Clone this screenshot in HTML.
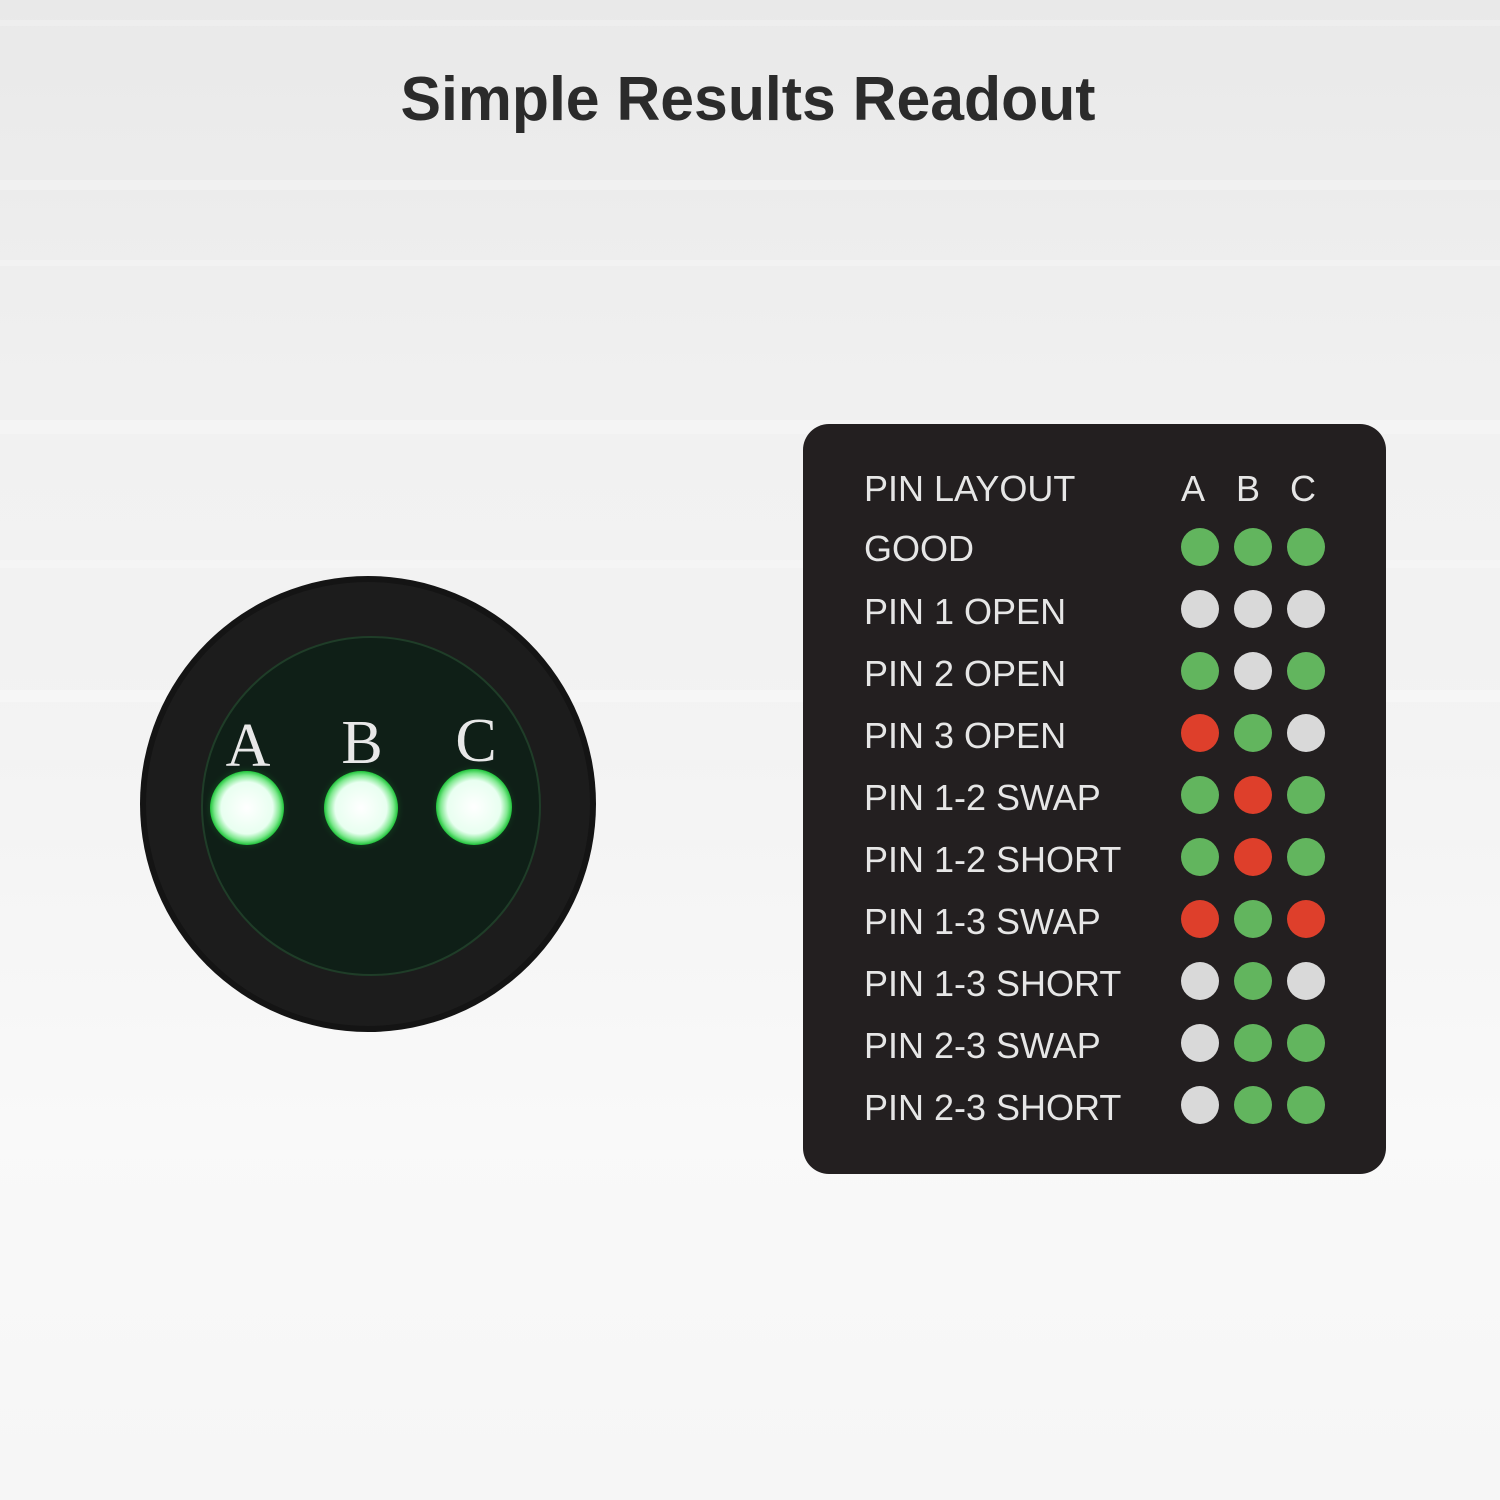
<!DOCTYPE html>
<html><head><meta charset="utf-8"><style>
html,body{margin:0;padding:0;width:1500px;height:1500px;overflow:hidden}
</style></head><body>
<svg width="1500" height="1500" viewBox="0 0 1500 1500" xmlns="http://www.w3.org/2000/svg">
<defs>
<linearGradient id="bg" x1="0" y1="0" x2="0" y2="1">
<stop offset="0" stop-color="#e9e9e9"/><stop offset="0.3" stop-color="#f1f1f1"/>
<stop offset="0.5" stop-color="#f3f3f3"/><stop offset="0.75" stop-color="#f9f9f9"/><stop offset="1" stop-color="#f6f6f6"/>
</linearGradient>
<radialGradient id="led" cx="0.5" cy="0.5" r="0.5">
<stop offset="0" stop-color="#ffffff"/><stop offset="0.7" stop-color="#e8fff0"/><stop offset="0.88" stop-color="#7fe88f"/><stop offset="1" stop-color="#1fc43a"/>
</radialGradient>
<radialGradient id="glow" cx="0.5" cy="0.5" r="0.5">
<stop offset="0.6" stop-color="#2cd94a" stop-opacity="0.6"/><stop offset="1" stop-color="#0a2a14" stop-opacity="0"/>
</radialGradient>
</defs>
<rect width="1500" height="1500" fill="url(#bg)"/>
<g fill="#ffffff" opacity="0.25">
<rect y="20" width="1500" height="6"/><rect y="180" width="1500" height="10"/><rect y="260" width="1500" height="6"/><rect y="420" width="1500" height="14"/><rect y="560" width="1500" height="8"/><rect y="690" width="1500" height="12"/>
</g>
<text x="748" y="120" font-family="Liberation Sans, sans-serif" font-weight="bold" font-size="62" fill="#2b2b2b" text-anchor="middle" textLength="695" lengthAdjust="spacingAndGlyphs">Simple Results Readout</text>

<circle cx="368" cy="804" r="228" fill="#141414"/>
<circle cx="368" cy="804" r="222" fill="#1c1c1c"/>
<circle cx="371" cy="806" r="169" fill="#0f1f17" stroke="#1f3d28" stroke-width="2"/>
<g font-family="Liberation Serif, serif" font-size="62" fill="#e8e8e8" text-anchor="middle">
<text x="248" y="766">A</text><text x="362" y="763">B</text><text x="476" y="761">C</text>
</g>
<circle cx="247" cy="808" r="44" fill="url(#glow)"/>
<circle cx="361" cy="808" r="44" fill="url(#glow)"/>
<circle cx="474" cy="807" r="44" fill="url(#glow)"/>
<circle cx="247" cy="808" r="37" fill="url(#led)"/>
<circle cx="361" cy="808" r="37" fill="url(#led)"/>
<circle cx="474" cy="807" r="38" fill="url(#led)"/>

<rect x="803" y="424" width="583" height="750" rx="26" fill="#231f20"/>
<g font-family="Liberation Sans, sans-serif" font-size="36" fill="#e6e6e6">
<text x="864" y="501">PIN LAYOUT</text>
<text x="1193" y="501" text-anchor="middle">A</text><text x="1248" y="501" text-anchor="middle">B</text><text x="1303" y="501" text-anchor="middle">C</text>
<text x="864" y="561">GOOD</text>
<text x="864" y="624">PIN 1 OPEN</text>
<text x="864" y="686">PIN 2 OPEN</text>
<text x="864" y="748">PIN 3 OPEN</text>
<text x="864" y="810">PIN 1-2 SWAP</text>
<text x="864" y="872">PIN 1-2 SHORT</text>
<text x="864" y="934">PIN 1-3 SWAP</text>
<text x="864" y="996">PIN 1-3 SHORT</text>
<text x="864" y="1058">PIN 2-3 SWAP</text>
<text x="864" y="1120">PIN 2-3 SHORT</text>
</g>
<g>
<circle cx="1200" cy="547" r="19" fill="#62b55e"/><circle cx="1253" cy="547" r="19" fill="#62b55e"/><circle cx="1306" cy="547" r="19" fill="#62b55e"/>
<circle cx="1200" cy="609" r="19" fill="#d9d9d9"/><circle cx="1253" cy="609" r="19" fill="#d9d9d9"/><circle cx="1306" cy="609" r="19" fill="#d9d9d9"/>
<circle cx="1200" cy="671" r="19" fill="#62b55e"/><circle cx="1253" cy="671" r="19" fill="#d9d9d9"/><circle cx="1306" cy="671" r="19" fill="#62b55e"/>
<circle cx="1200" cy="733" r="19" fill="#de3f2b"/><circle cx="1253" cy="733" r="19" fill="#62b55e"/><circle cx="1306" cy="733" r="19" fill="#d9d9d9"/>
<circle cx="1200" cy="795" r="19" fill="#62b55e"/><circle cx="1253" cy="795" r="19" fill="#de3f2b"/><circle cx="1306" cy="795" r="19" fill="#62b55e"/>
<circle cx="1200" cy="857" r="19" fill="#62b55e"/><circle cx="1253" cy="857" r="19" fill="#de3f2b"/><circle cx="1306" cy="857" r="19" fill="#62b55e"/>
<circle cx="1200" cy="919" r="19" fill="#de3f2b"/><circle cx="1253" cy="919" r="19" fill="#62b55e"/><circle cx="1306" cy="919" r="19" fill="#de3f2b"/>
<circle cx="1200" cy="981" r="19" fill="#d9d9d9"/><circle cx="1253" cy="981" r="19" fill="#62b55e"/><circle cx="1306" cy="981" r="19" fill="#d9d9d9"/>
<circle cx="1200" cy="1043" r="19" fill="#d9d9d9"/><circle cx="1253" cy="1043" r="19" fill="#62b55e"/><circle cx="1306" cy="1043" r="19" fill="#62b55e"/>
<circle cx="1200" cy="1105" r="19" fill="#d9d9d9"/><circle cx="1253" cy="1105" r="19" fill="#62b55e"/><circle cx="1306" cy="1105" r="19" fill="#62b55e"/>
</g>
</svg>
</body></html>
